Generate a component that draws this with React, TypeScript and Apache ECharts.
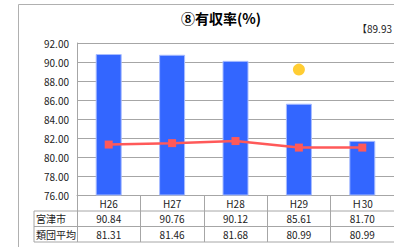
import React, { useEffect, useRef } from "react";
import * as echarts from "echarts";

const categories = ["H26", "H27", "H28", "H29", "Ｈ30"];
const cityValues = [90.84, 90.76, 90.12, 85.61, 81.7];
const groupAvg = [81.31, 81.46, 81.68, 80.99, 80.99];
const nationalPoint = [null, null, null, 89.2, null];
const rowLabels = ["宮津市", "類団平均"];
const yTicks = { min: 76, max: 92, interval: 2 };

const FONT = "'Noto Sans CJK JP', sans-serif";
const GRID = { left: 77, top: 43, width: 330, height: 152 };
const LINE = "#a6a6a6";

export default function App() {
  const ref = useRef<HTMLDivElement>(null);
  useEffect(() => {
    const chart = echarts.init(ref.current!, null, { renderer: "svg" });
    const bottom = GRID.top + GRID.height;
    const r1 = bottom + 16;
    const r2 = bottom + 31.5;
    const r3 = bottom + 47;
    chart.setOption({
      animation: false,
      textStyle: { fontFamily: FONT },
      title: {
        text: "⑧有収率(%)",
        left: 216,
        textAlign: "center",
        top: 6,
        textStyle: { fontFamily: FONT, fontSize: 14, fontWeight: "bold", color: "#000" },
      },
      grid: GRID,
      xAxis: [
        {
          type: "category",
          data: categories,
          position: "bottom",
          axisLine: { lineStyle: { color: LINE } },
          axisTick: { show: true, length: 47, interval: 0, lineStyle: { color: LINE } },
          axisLabel: { interval: 0, margin: 3, fontSize: 10, color: "#222", fontFamily: FONT },
        },
        {
          type: "category",
          data: cityValues.map((v) => v.toFixed(2)),
          position: "bottom",
          offset: 16,
          axisLine: { show: false },
          axisTick: { show: false },
          axisLabel: { interval: 0, margin: 2, fontSize: 10, color: "#222", fontFamily: FONT },
        },
        {
          type: "category",
          data: groupAvg.map((v) => v.toFixed(2)),
          position: "bottom",
          offset: 31.5,
          axisLine: { show: false },
          axisTick: { show: false },
          axisLabel: { interval: 0, margin: 3, fontSize: 10, color: "#222", fontFamily: FONT },
        },
      ],
      yAxis: {
        type: "value",
        min: yTicks.min,
        max: yTicks.max,
        interval: yTicks.interval,
        axisLine: { show: true, lineStyle: { color: LINE } },
        axisTick: { show: false },
        splitLine: { lineStyle: { color: LINE } },
        axisLabel: {
          margin: 8,
          fontSize: 10,
          color: "#222",
          fontFamily: FONT,
          formatter: (v: number) => v.toFixed(2),
        },
      },
      series: [
        {
          type: "bar",
          data: cityValues,
          barWidth: 26,
          itemStyle: { color: "#3366ff", borderColor: "#a8bcff", borderWidth: 1 },
        },
        {
          type: "line",
          data: groupAvg,
          symbol: "rect",
          symbolSize: 8,
          lineStyle: { color: "#ff5959", width: 2.5 },
          itemStyle: { color: "#ff5959" },
        },
        {
          type: "scatter",
          data: nationalPoint,
          symbolSize: 12,
          itemStyle: { color: "#ffc000" },
        },
      ],
      graphic: [
        {
          type: "rect",
          shape: { x: 18.5, y: 4.5, width: 400, height: 250 },
          style: { fill: "none", stroke: "#b0b0b0", lineWidth: 1 },
          silent: true,
        },
        {
          type: "text",
          x: 357,
          y: 23,
          style: { text: "【89.93", fontSize: 10, fontFamily: FONT, fill: "#222" },
        },
        { type: "line", shape: { x1: 34, y1: r1, x2: 407, y2: r1 }, style: { stroke: LINE, lineWidth: 1 } },
        { type: "line", shape: { x1: 34, y1: r2, x2: 407, y2: r2 }, style: { stroke: LINE, lineWidth: 1 } },
        { type: "line", shape: { x1: 34, y1: r3, x2: 407, y2: r3 }, style: { stroke: LINE, lineWidth: 1 } },
        { type: "line", shape: { x1: 34, y1: r1, x2: 34, y2: r3 }, style: { stroke: LINE, lineWidth: 1 } },
        {
          type: "text",
          x: 36,
          y: (r1 + r2) / 2,
          style: { text: rowLabels[0], fontSize: 10, fontFamily: FONT, fill: "#222", verticalAlign: "middle" },
        },
        {
          type: "text",
          x: 36,
          y: (r2 + r3) / 2,
          style: { text: rowLabels[1], fontSize: 10, fontFamily: FONT, fill: "#222", verticalAlign: "middle" },
        },
      ],
    });
    return () => chart.dispose();
  }, []);
  return (
    <div
      ref={ref}
      style={{ position: "fixed", left: 0, top: 0, width: 394, height: 247, background: "#fff" }}
    />
  );
}
